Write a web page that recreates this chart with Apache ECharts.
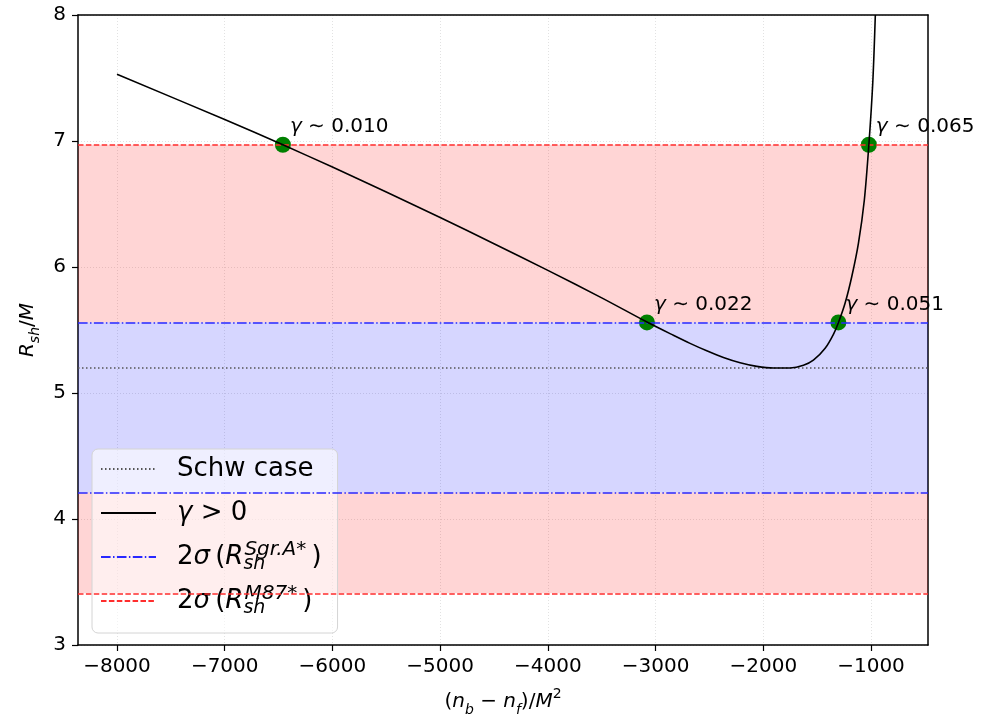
<!DOCTYPE html>
<html>
<head>
<meta charset="utf-8">
<script src="https://cdn.jsdelivr.net/npm/echarts@6/dist/echarts.min.js"></script>
<style>
  html, body { margin: 0; padding: 0; background: #fff; }
  #chart { width: 983px; height: 718px; }
</style>
</head>
<body>
<div id="chart"></div>
<script>
// Shadow radius R_sh/M as a function of (n_b - n_f)/M^2 for gamma > 0
const curveX = [-8000, -7000, -6460, -6000, -5500, -5000, -4500, -4000, -3500, -3080,
                -2835, -2680, -2525, -2370, -2215, -2060, -1906, -1751, -1627, -1535,
                -1426, -1349, -1303, -1241, -1179, -1117, -1062, -1020, -984, -960];
const curveY = [7.53, 7.17, 6.97, 6.793, 6.595, 6.393, 6.185, 5.973, 5.755, 5.563,
                5.458, 5.394, 5.335, 5.282, 5.240, 5.211, 5.198, 5.199, 5.220, 5.260,
                5.355, 5.466, 5.558, 5.712, 5.923, 6.188, 6.532, 6.97, 7.458, 8.0];

// Intersections with the 2-sigma bounds, with their gamma values
const crossX = [-6460, -3080, -1303, -1020];
const crossY = [6.97, 5.56, 5.56, 6.97];
const crossGamma = ['0.010', '0.022', '0.051', '0.065'];

// Reference levels
const schwRadius = 5.196;
const sgrBounds = [4.21, 5.56];
const m87Bounds = [3.41, 6.97];

// Axis ticks
const xTicks = [-8000, -7000, -6000, -5000, -4000, -3000, -2000, -1000];
const yTicks = [3, 4, 5, 6, 7, 8];
const xRange = [-8362, -471];
const yRange = [3, 8];

const seriesNames = ['Schw case', 'γ > 0', 'Sgr', 'M87'];

const FONT = 'DejaVu Sans';
const chart = echarts.init(document.getElementById('chart'), null, { renderer: 'canvas' });

const curveData = curveX.map((x, i) => [x, curveY[i]]);
const crossData = crossX.map((x, i) => [x, crossY[i], crossGamma[i]]);

const minus = v => String(v).replace('-', '\u2212');

const legendText = {
  'Schw case': '{pad| }Schw case',
  'γ > 0': '{pad| }{i|γ} > 0',
  'Sgr': '{pad| }2{i|σ}\u2009({i|R}{sb|sh}{sp|Sgr.A*}\u2009)',
  'M87': '{pad| }2{i|σ}\u2009({i|R}{sb|sh}{sp|M87*}\u2009)'
};

const RED = 'rgb(255,45,45)';
const BLUE = 'rgb(40,40,255)';
const GREY = '#555';
const redDash = [5.5, 2.4];
const blueDashDot = [9.6, 2.4, 1.5, 2.4];
const greyDot = [1.5, 2.5];

const spine = { show: true, onZero: false, lineStyle: { color: '#000', width: 1.5 } };
const gridLine = { show: true, lineStyle: { color: '#e2e2e2', type: [1, 2], width: 1 } };

const option = {
  animation: false,
  backgroundColor: '#fff',
  grid: {
    left: 78, right: 55, top: 15, bottom: 73,
    outerBoundsMode: 'none',
    containLabel: false
  },
  xAxis: [{
    type: 'value',
    min: xRange[0], max: xRange[1],
    splitNumber: 8,
    name: '({i|n}{sb|b} \u2212 {i|n}{sb|f})/{i|M}{sp|2}',
    nameLocation: 'middle',
    nameGap: 42,
    nameTextStyle: {
      fontFamily: FONT, fontSize: 20, color: '#000', lineHeight: 30,
      rich: {
        i: { fontFamily: FONT, fontStyle: 'italic', fontSize: 20, color: '#000', lineHeight: 30 },
        sb: { fontFamily: FONT, fontStyle: 'italic', fontSize: 14, color: '#000', verticalAlign: 'bottom', lineHeight: 30 },
        sp: { fontFamily: FONT, fontSize: 14, color: '#000', verticalAlign: 'top', lineHeight: 30 }
      }
    },
    axisLine: spine,
    axisTick: { show: true, customValues: xTicks, length: 6, lineStyle: { color: '#000', width: 1.2 } },
    axisLabel: {
      customValues: xTicks, margin: 12, fontFamily: FONT, fontSize: 20, color: '#000',
      formatter: minus
    },
    splitLine: gridLine
  }, {
    type: 'value', position: 'top',
    min: xRange[0], max: xRange[1],
    axisLine: spine, axisTick: { show: false }, axisLabel: { show: false }, splitLine: { show: false }
  }],
  yAxis: [{
    type: 'value',
    min: yRange[0], max: yRange[1], interval: 1,
    name: '{i|R}{sb|sh}/{i|M}',
    nameLocation: 'middle',
    nameGap: 26,
    nameTextStyle: {
      fontFamily: FONT, fontSize: 20, color: '#000', lineHeight: 30,
      rich: {
        i: { fontFamily: FONT, fontStyle: 'italic', fontSize: 20, color: '#000', lineHeight: 30 },
        sb: { fontFamily: FONT, fontStyle: 'italic', fontSize: 14, color: '#000', verticalAlign: 'bottom', lineHeight: 30 }
      }
    },
    axisLine: spine,
    axisTick: { show: true, length: 6, lineStyle: { color: '#000', width: 1.2 } },
    axisLabel: { margin: 12, fontFamily: FONT, fontSize: 20, color: '#000', formatter: v => yTicks.includes(v) ? String(v) : '' },
    splitLine: gridLine
  }, {
    type: 'value', position: 'right',
    min: yRange[0], max: yRange[1],
    axisLine: spine, axisTick: { show: false }, axisLabel: { show: false }, splitLine: { show: false }
  }],
  legend: {
    data: seriesNames,
    orient: 'vertical',
    left: 92, top: 449,
    z: 4,
    padding: [3, 16, 15, 8],
    itemWidth: 55, itemHeight: 14,
    itemGap: 10,
    backgroundColor: 'rgba(255,255,255,0.6)',
    borderColor: '#d4d4d4', borderWidth: 1, borderRadius: 6,
    itemStyle: { opacity: 0 },
    formatter: name => legendText[name],
    textStyle: {
      fontFamily: FONT, fontSize: 26, color: '#000', lineHeight: 34,
      rich: {
        pad: { width: 16, fontSize: 26, lineHeight: 34 },
        i: { fontFamily: FONT, fontStyle: 'italic', fontSize: 26, color: '#000', lineHeight: 34 },
        sb: { fontFamily: FONT, fontStyle: 'italic', fontSize: 19, color: '#000', verticalAlign: 'bottom', width: 1, lineHeight: 34 },
        sp: { fontFamily: FONT, fontStyle: 'italic', fontSize: 20, color: '#000', verticalAlign: 'top', lineHeight: 34 }
      }
    }
  },
  series: [
    {
      // shaded 2-sigma bands
      name: 'bands', type: 'line', data: [], symbol: 'none', z: 1, silent: true,
      markArea: {
        silent: true,
        data: [
          [{ yAxis: m87Bounds[0], itemStyle: { color: 'rgba(255,0,0,0.165)' } }, { yAxis: sgrBounds[0] }],
          [{ yAxis: sgrBounds[1], itemStyle: { color: 'rgba(255,0,0,0.165)' } }, { yAxis: m87Bounds[1] }],
          [{ yAxis: sgrBounds[0], itemStyle: { color: 'rgba(0,0,255,0.16)' } }, { yAxis: sgrBounds[1] }]
        ]
      }
    },
    {
      name: 'M87', type: 'line', data: [], symbol: 'none', z: 6,
      lineStyle: { color: RED, width: 1.6, type: redDash },
      itemStyle: { color: RED },
      markLine: {
        silent: true, symbol: 'none', label: { show: false },
        lineStyle: { color: RED, width: 1.6, type: redDash },
        data: m87Bounds.map(v => ({ yAxis: v }))
      }
    },
    {
      name: 'Sgr', type: 'line', data: [], symbol: 'none', z: 6,
      lineStyle: { color: BLUE, width: 1.6, type: blueDashDot },
      itemStyle: { color: BLUE },
      markLine: {
        silent: true, symbol: 'none', label: { show: false },
        lineStyle: { color: BLUE, width: 1.6, type: blueDashDot },
        data: sgrBounds.map(v => ({ yAxis: v }))
      }
    },
    {
      name: 'Schw case', type: 'line', data: [], symbol: 'none', z: 6,
      lineStyle: { color: GREY, width: 1.6, type: greyDot },
      itemStyle: { color: GREY },
      markLine: {
        silent: true, symbol: 'none', label: { show: false },
        lineStyle: { color: GREY, width: 1.6, type: greyDot },
        data: [{ yAxis: schwRadius }]
      }
    },
    {
      name: 'crossings', type: 'scatter', z: 2,
      data: crossData,
      symbolSize: 16,
      itemStyle: { color: '#008000', opacity: 1 },
      label: {
        show: true,
        position: [15, -20],
        fontFamily: FONT, fontSize: 20, color: '#000',
        formatter: p => '{g|γ} ∼ ' + p.data[2],
        rich: { g: { fontFamily: FONT, fontStyle: 'italic', fontSize: 20, color: '#000' } }
      }
    },
    {
      name: 'γ > 0', type: 'line', data: curveData, symbol: 'none', z: 7,
      smooth: 0.3,
      lineStyle: { color: '#000', width: 1.6 },
      itemStyle: { color: '#000' }
    }
  ]
};

chart.setOption(option);
</script>
</body>
</html>
